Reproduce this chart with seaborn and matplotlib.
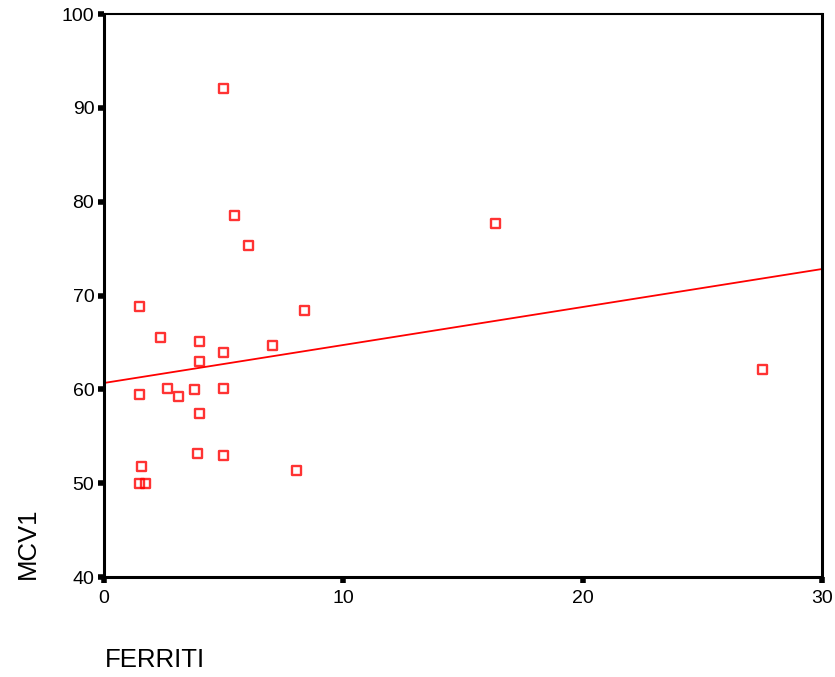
import numpy as np
import pandas as pd
import matplotlib
matplotlib.use("Agg")
import matplotlib.pyplot as plt
import seaborn as sns

# data
ferriti = [5.0, 5.47, 6.02, 16.34, 1.50, 8.36, 2.35, 4.0, 5.0, 7.03, 4.0, 1.5,
           2.67, 3.13, 3.77, 5.0, 4.0, 3.9, 5.0, 1.57, 8.05, 1.5, 1.74, 27.5]
mcv1 = [92.1, 78.5, 75.3, 77.7, 68.8, 68.4, 65.5, 65.1, 63.9, 64.7, 63.0, 59.5,
        60.1, 59.2, 60.0, 60.1, 57.4, 53.2, 52.9, 51.8, 51.4, 50.0, 50.0, 62.1]
x_ticks = [0, 10, 20, 30]
y_ticks = [40, 50, 60, 70, 80, 90, 100]

df = pd.DataFrame({"FERRITI": ferriti, "MCV1": mcv1})

sns.set_style("white")
plt.rcParams['font.family'] = ['Liberation Sans', 'DejaVu Sans']
plt.rcParams['text.color'] = 'black'
plt.rcParams['xtick.color'] = 'black'
plt.rcParams['ytick.color'] = 'black'

fig = plt.figure(figsize=(8.35, 6.77), dpi=100)
ax = fig.add_axes([0.1246, 0.1477, 0.8598, 0.8316])
ax.set_xlim(0, 30)
ax.set_ylim(40, 100)

# fitted line runs across the whole x range
sns.regplot(data=df, x="FERRITI", y="MCV1", ax=ax, ci=None, truncate=False,
            marker="s",
            scatter_kws={"s": 42, "facecolors": "none", "edgecolors": "#ff0000",
                         "linewidths": 1.7},
            line_kws={"color": "#ff0000", "linewidth": 1.3})

ax.set_xlim(0, 30)
ax.set_ylim(40, 100)
ax.set_xticks(x_ticks)
ax.set_yticks(y_ticks)
ax.tick_params(axis="both", bottom=True, left=True, direction="out", length=4,
               width=4, color="black", labelcolor="black", labelsize=14, pad=3)
ax.tick_params(axis="x", pad=5)

for side in ["left", "bottom", "right"]:
    ax.spines[side].set_linewidth(2.2)
    ax.spines[side].set_color("black")
ax.spines["top"].set_linewidth(1.5)
ax.spines["top"].set_color("black")

ax.set_xlabel("")
ax.set_ylabel("")
fig.text(0.126, 0.008, "FERRITI", fontsize=18.5, ha="left", va="bottom")
fig.text(0.033, 0.198, "MCV1", fontsize=18.5, rotation=90, ha="center", va="center")

fig.savefig("out.png", dpi=100)
